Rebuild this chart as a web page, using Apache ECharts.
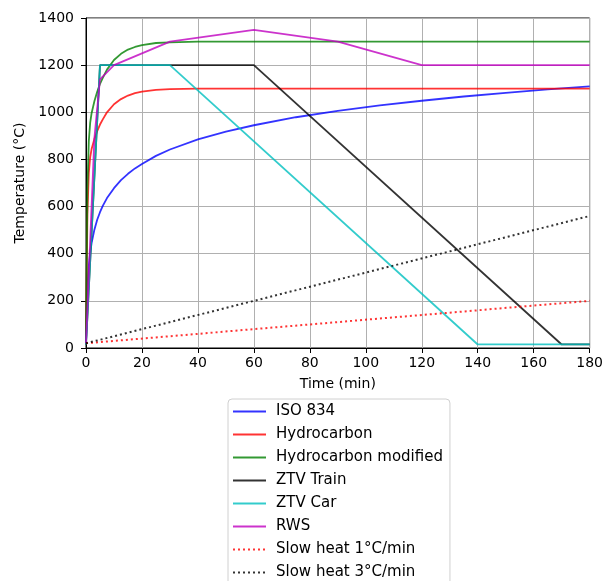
<!DOCTYPE html>
<html>
<head>
<meta charset="utf-8">
<script src="https://cdn.jsdelivr.net/npm/echarts@6/dist/echarts.min.js"></script>
<style>
  html, body { margin: 0; padding: 0; background: #fff; }
  #chart { width: 606px; height: 581px; }
</style>
</head>
<body>
<div id="chart"></div>
<script>
// Fire curves: temperature (°C) against time (min)
const curveTime = [0, 0.5, 1, 1.5, 2, 3, 4, 5, 6, 7.5, 10, 12.5, 15, 17.5, 20, 25, 30, 40, 50, 60, 75, 90, 105, 120, 135, 150, 165, 180];
const iso834 = [20, 261, 349, 404, 445, 502, 544, 576, 603, 636, 678, 712, 739, 762, 781, 815, 842, 885, 918, 945, 979, 1006, 1029, 1049, 1067, 1082, 1097, 1110];
const hydrocarbon = [20, 568, 743, 810, 844, 887, 920, 948, 970, 1000, 1034, 1056, 1071, 1081, 1088, 1095, 1098, 1100, 1100, 1100, 1100, 1100, 1100, 1100, 1100, 1100, 1100, 1100];
const hydrocarbonMod = [20, 670, 877, 956, 996, 1047, 1087, 1120, 1146, 1181, 1222, 1248, 1266, 1277, 1285, 1294, 1297, 1300, 1300, 1300, 1300, 1300, 1300, 1300, 1300, 1300, 1300, 1300];

const ztvTrainTime = [0, 5, 60, 170, 180];
const ztvTrainTemp = [15, 1200, 1200, 15, 15];
const ztvCarTime = [0, 5, 30, 140, 180];
const ztvCarTemp = [15, 1200, 1200, 15, 15];
const rwsTime = [0, 3, 5, 10, 30, 60, 90, 120, 180];
const rwsTemp = [20, 890, 1140, 1200, 1300, 1350, 1300, 1200, 1200];
const slowTime = [0, 180];
const slow1Temp = [20, 200];
const slow3Temp = [20, 560];

const xTicks = [0, 20, 40, 60, 80, 100, 120, 140, 160, 180];
const yTicks = [0, 200, 400, 600, 800, 1000, 1200, 1400];

const pairs = (xs, ys) => xs.map((x, i) => [x, ys[i]]);
const FONT = 'DejaVu Sans';

function lineSeries(name, xs, ys, color, dash) {
  return {
    name: name,
    type: 'line',
    data: pairs(xs, ys),
    symbol: 'none',
    showSymbol: false,
    animation: false,
    lineStyle: { color: color, width: dash ? 2 : 1.8, type: dash ? [2, 3] : 'solid' },
    itemStyle: { color: color }
  };
}

const chart = echarts.init(document.getElementById('chart'));
chart.setOption({
  animation: false,
  backgroundColor: '#fff',
  grid: {
    left: 86, right: 12, top: 18, bottom: 233,
    show: true, borderColor: '#000', borderWidth: 1, backgroundColor: 'transparent'
  },
  xAxis: {
    type: 'value', min: xTicks[0], max: xTicks[xTicks.length - 1], interval: 20,
    name: 'Time (min)', nameLocation: 'middle', nameGap: 29,
    nameTextStyle: { fontFamily: FONT, fontSize: 14, color: '#000' },
    axisLine: { show: true, lineStyle: { color: '#000', width: 1 } },
    axisTick: { show: true, inside: false, length: 5, lineStyle: { color: '#000' } },
    axisLabel: { fontFamily: FONT, fontSize: 14, color: '#000', margin: 8 },
    splitLine: { show: true, lineStyle: { color: '#b0b0b0', width: 1 } }
  },
  yAxis: {
    type: 'value', min: yTicks[0], max: yTicks[yTicks.length - 1], interval: 200,
    name: 'Temperature (°C)', nameLocation: 'middle', nameGap: 53,
    nameTextStyle: { fontFamily: FONT, fontSize: 14, color: '#000' },
    axisLine: { show: true, lineStyle: { color: '#000', width: 1 } },
    axisTick: { show: true, inside: false, length: 5, lineStyle: { color: '#000' } },
    axisLabel: { fontFamily: FONT, fontSize: 14, color: '#000', margin: 12, formatter: v => String(v) },
    splitLine: { show: true, lineStyle: { color: '#b0b0b0', width: 1 } }
  },
  legend: {
    orient: 'vertical', left: 228, top: 399, height: 400,
    padding: [5, 7, 5, 4],
    itemWidth: 33, itemHeight: 14, itemGap: 8,
    backgroundColor: 'rgba(255,255,255,0.8)',
    borderColor: '#d0d0d0', borderWidth: 1, borderRadius: 4,
    itemStyle: { color: 'transparent', borderWidth: 0, opacity: 0 },
    textStyle: { fontFamily: FONT, fontSize: 15, color: '#000', lineHeight: 15, padding: [0, 0, 0, 5] },
    data: ['ISO 834', 'Hydrocarbon', 'Hydrocarbon modified', 'ZTV Train', 'ZTV Car', 'RWS', 'Slow heat 1°C/min', 'Slow heat 3°C/min']
  },
  series: [
    lineSeries('ISO 834', curveTime, iso834, 'rgba(0,0,255,0.8)'),
    lineSeries('Hydrocarbon', curveTime, hydrocarbon, 'rgba(255,0,0,0.8)'),
    lineSeries('Hydrocarbon modified', curveTime, hydrocarbonMod, 'rgba(0,128,0,0.8)'),
    lineSeries('ZTV Train', ztvTrainTime, ztvTrainTemp, 'rgba(0,0,0,0.8)'),
    lineSeries('ZTV Car', ztvCarTime, ztvCarTemp, 'rgba(0,191,191,0.8)'),
    lineSeries('RWS', rwsTime, rwsTemp, 'rgba(191,0,191,0.8)'),
    lineSeries('Slow heat 1°C/min', slowTime, slow1Temp, 'rgba(255,0,0,0.8)', true),
    lineSeries('Slow heat 3°C/min', slowTime, slow3Temp, 'rgba(0,0,0,0.8)', true)
  ]
});
</script>
</body>
</html>
